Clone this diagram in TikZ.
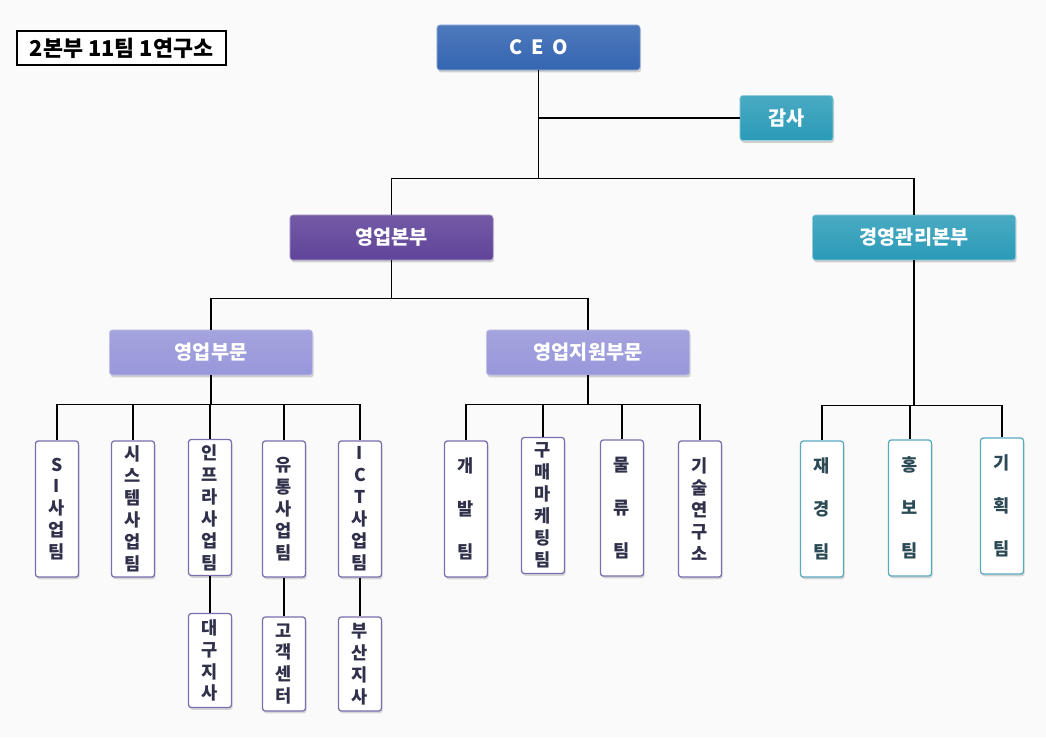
\documentclass[tikz,border=0pt]{standalone}
\usepackage{fontspec}
\setmainfont{Noto Sans CJK KR}
\usetikzlibrary{shadows}

\definecolor{ceoblue}{HTML}{3566B2}
\definecolor{teal}{HTML}{2A9BB8}
\definecolor{deeppurple}{HTML}{60449A}
\definecolor{lavender}{HTML}{9897DA}
\definecolor{leafpurple}{HTML}{7C6DAE}
\definecolor{leafteal}{HTML}{5AAABF}
\definecolor{darktext}{HTML}{30304A}
\definecolor{tealtext}{HTML}{2C4A55}

\begin{document}
\begin{tikzpicture}[x=0.025cm,y=-0.025cm,
	box node/.style={rounded corners=2pt,minimum width=5.075cm,minimum height=1.125cm,
		text=white,font=\fontsize{14}{16}\selectfont\bfseries,
		drop shadow={opacity=0.35,shadow xshift=0.8pt,shadow yshift=-1.6pt}},
	ceo node/.style={box node,top color=ceoblue!88!white,bottom color=ceoblue,draw=ceoblue!50!white},
	teal node/.style={box node,top color=teal!85!white,bottom color=teal,draw=teal!50!white},
	hq node/.style={box node,top color=deeppurple!88!white,bottom color=deeppurple,draw=deeppurple!50!white},
	div node/.style={box node,top color=lavender!88!white,bottom color=lavender,draw=lavender!60!white},
	leaf node/.style={rounded corners=2pt,fill=white,draw=leafpurple,line width=0.9pt,
		minimum width=1.075cm,minimum height=3.4cm,inner sep=1pt,align=center,text=darktext,
		font=\fontsize{12.5}{15.6}\selectfont\bfseries,
		drop shadow={opacity=0.3,shadow xshift=0.8pt,shadow yshift=-1.6pt}},
	wide leaf/.style={leaf node,font=\fontsize{12.5}{30.5}\selectfont\bfseries},
	teal leaf/.style={wide leaf,draw=leafteal,text=tealtext},
	sub leaf/.style={leaf node,minimum height=2.35cm},
	link/.style={line width=0.8pt,black}
]

	% page
	\fill[black!2] (0,0) rectangle (1046,737);
	\useasboundingbox (0,0) rectangle (1046,737);

	\node[draw=black,fill=white,line width=0.8pt,minimum width=5.225cm,minimum height=0.85cm,
		font=\fontsize{15.5}{17}\selectfont\bfseries] (title) at (121.5,48) {2본부 11팀 1연구소};

	% top levels
	\node[ceo node] (ceo) at (538.5,47.5) {C\hspace{0.45em}E\hspace{0.45em}O};
	\node[teal node,minimum width=2.325cm] (audit) at (786.5,118) {감사};
	\node[hq node] (sales) at (391.5,237.5) {영업본부};
	\node[teal node] (mgmt) at (914,237.5) {경영관리본부};
	\node[div node] (salesdiv) at (211,352.5) {영업부문};
	\node[div node] (suppdiv) at (588,352.5) {영업지원부문};

	% teams
	\node[leaf node] (si) at (57,509) {S\\I\\사\\업\\팀};
	\node[leaf node] (sys) at (133,509) {시\\스\\템\\사\\업\\팀};
	\node[leaf node] (infra) at (210,507.5) {인\\프\\라\\사\\업\\팀};
	\node[leaf node] (dist) at (284,509) {유\\통\\사\\업\\팀};
	\node[leaf node] (ict) at (360,509) {I\\C\\T\\사\\업\\팀};
	\node[wide leaf] (dev) at (466,509) {개\\발\\팀};
	\node[leaf node] (buy) at (543,505.5) {구\\매\\마\\케\\팅\\팀};
	\node[wide leaf] (logi) at (622,508) {물\\류\\팀};
	\node[leaf node] (lab) at (700,509) {기\\술\\연\\구\\소};
	\node[teal leaf] (fin) at (822,509) {재\\경\\팀};
	\node[teal leaf] (pr) at (910,508) {홍\\보\\팀};
	\node[teal leaf] (plan) at (1002,506) {기\\획\\팀};

	% branches
	\node[sub leaf] (daegu) at (210,660.5) {대\\구\\지\\사};
	\node[sub leaf] (center) at (284,664) {고\\객\\센\\터};
	\node[sub leaf] (busan) at (360,664) {부\\산\\지\\사};

	% connectors
	\draw[link] (ceo.south) |- (audit.west);
	\foreach \n in {sales,mgmt}
		\draw[link] (ceo.south) -- ++(0,108) -| (\n.north);
	\foreach \n in {salesdiv,suppdiv}
		\draw[link] (sales.south) -- ++(0,38) -| (\n.north);
	\foreach \n in {si,sys,infra,dist,ict}
		\draw[link] (salesdiv.south) -- ++(0,29) -| (\n.north);
	\foreach \n in {dev,buy,logi,lab}
		\draw[link] (suppdiv.south) -- ++(0,29) -| (\n.north);
	\foreach \n in {fin,pr,plan}
		\draw[link] (mgmt.south) -- ++(0,145) -| (\n.north);
	\draw[link] (infra.south) -- (daegu.north);
	\draw[link] (dist.south) -- (center.north);
	\draw[link] (ict.south) -- (busan.north);
\end{tikzpicture}
\end{document}
